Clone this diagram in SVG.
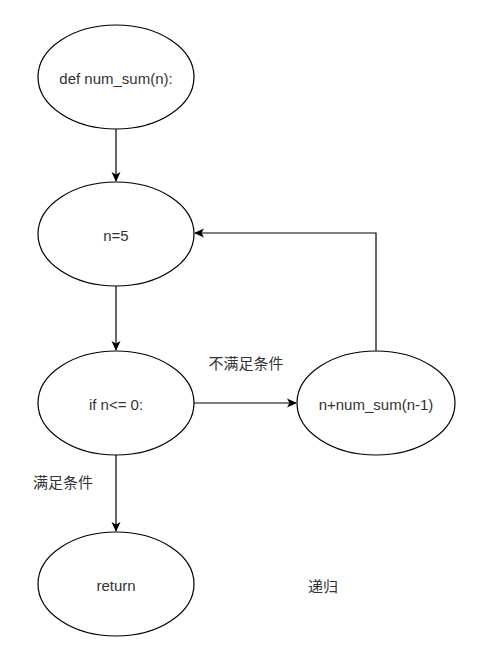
<svg xmlns="http://www.w3.org/2000/svg" width="477" height="648" viewBox="0 0 477 648">
<style>
.n{fill:#fff;stroke:#000;stroke-width:1.2}
.t{font-family:"Liberation Sans","Noto Sans CJK SC",sans-serif;font-size:15px;fill:#333;text-anchor:middle;dominant-baseline:central}
.c{fill:none;stroke:#000;stroke-width:1.2}
</style>
<defs>
<marker id="a" markerWidth="10" markerHeight="10" refX="9" refY="5" orient="auto" markerUnits="userSpaceOnUse">
<path d="M0,0.5 L10,5 L0,9.5 L2.5,5 Z" fill="#000"/>
</marker>
</defs>
<rect width="477" height="648" fill="#fff"/>
<g id="connectors">
<path class="c" d="M116,129 V181" marker-end="url(#a)"/>
<path class="c" d="M116,286 V350" marker-end="url(#a)"/>
<path class="c" d="M116,455 V531" marker-end="url(#a)"/>
<path class="c" d="M194,403 H296" marker-end="url(#a)"/>
<path class="c" d="M376,351 V233 H195" marker-end="url(#a)"/>
</g>
<g id="n1"><ellipse class="n" cx="116" cy="77" rx="78" ry="52"/><text class="t" x="116" y="78">def num_sum(n):</text></g>
<g id="n2"><ellipse class="n" cx="116" cy="234" rx="78" ry="52"/><text class="t" x="116" y="235">n=5</text></g>
<g id="n3"><ellipse class="n" cx="116" cy="403" rx="78" ry="52"/><text class="t" x="116" y="404">if n&lt;= 0:</text></g>
<g id="n4"><ellipse class="n" cx="376" cy="403" rx="79" ry="52"/><text class="t" x="376" y="404">n+num_sum(n-1)</text></g>
<g id="n5"><ellipse class="n" cx="116" cy="584" rx="78" ry="52"/><text class="t" x="116" y="585">return</text></g>
<g id="labels">
<text class="t" x="246" y="363">不满足条件</text>
<text class="t" x="63" y="482">满足条件</text>
<text class="t" x="323" y="586">递归</text>
</g>
</svg>
